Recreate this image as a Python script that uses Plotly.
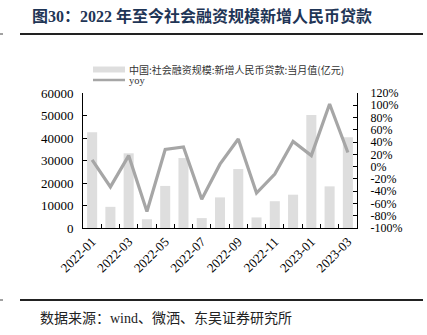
import plotly.graph_objects as go

# Monthly data, 2022-01 .. 2023-03
months = ["2022-01", "2022-02", "2022-03", "2022-04", "2022-05", "2022-06",
          "2022-07", "2022-08", "2022-09", "2022-10", "2022-11", "2022-12",
          "2023-01", "2023-02", "2023-03"]
new_rmb_loans = [42600, 9400, 33200, 3900, 18700, 31100,
                 4400, 13600, 26200, 4700, 11900, 14800,
                 50200, 18500, 40300]          # 亿元
yoy = [11, -33, 18, -73, 28, 32,
       -53, 4, 45, -43, -12, 41,
       18, 102, 23]                           # %

left_ticks = [0, 10000, 20000, 30000, 40000, 50000, 60000]
right_ticks = list(range(-100, 121, 20))
month_labels = [m if i % 2 == 0 else "" for i, m in enumerate(months)]

W, H = 427, 335
L, R, T, B = 83, 70, 93, 107
PW, PH = W - L - R, H - T - B


def px(x):
    return (x - L) / PW


def py(y):
    return (H - B - y) / PH


SERIF = "Liberation Serif, Times New Roman, serif"
CJK = "Noto Sans CJK SC, sans-serif"

fig = go.Figure()
fig.add_trace(go.Bar(
    x=months, y=new_rmb_loans, name="中国:社会融资规模:新增人民币贷款:当月值(亿元)",
    marker=dict(color="#dedede", line=dict(width=0)), yaxis="y",
))
fig.add_trace(go.Scatter(
    x=months, y=yoy, name="yoy", mode="lines",
    line=dict(color="#a6a6a6", width=3.2), yaxis="y2",
))

fig.update_layout(
    width=W, height=H,
    margin=dict(l=L, r=R, t=T, b=B),
    paper_bgcolor="white", plot_bgcolor="white",
    showlegend=False,
    bargap=0.45,
    title=dict(
        text="<b>图30：2022 年至今社会融资规模新增人民币贷款</b>",
        xref="container", yref="container", x=372 / W, y=1 - 16 / H,
        xanchor="right", yanchor="middle",
        font=dict(family="Liberation Serif, Noto Sans CJK SC", size=16, color="#1f3556"),
    ),
    xaxis=dict(
        type="category", tickmode="array", tickvals=months, ticktext=month_labels,
        tickson="boundaries", ticks="inside", ticklen=4, tickcolor="black",
        showline=True, linecolor="black", linewidth=1,
        tickangle=-45, tickfont=dict(family=SERIF, size=13, color="black"),
        showgrid=False, range=[-0.5, 14.5],
    ),
    yaxis=dict(
        range=[0, 60000], tickmode="array", tickvals=left_ticks,
        ticktext=[str(v) for v in left_ticks],
        ticks="inside", ticklen=4, tickcolor="black",
        showline=True, linecolor="black", linewidth=1,
        showgrid=False, zeroline=False,
        tickfont=dict(family=SERIF, size=13, color="black"),
        ticklabelstandoff=6,
    ),
    yaxis2=dict(
        range=[-100, 120], tickmode="array", tickvals=right_ticks,
        ticktext=[f"{v}%" for v in right_ticks],
        overlaying="y", side="right",
        ticks="inside", ticklen=4, tickcolor="black",
        showline=True, linecolor="black", linewidth=1,
        showgrid=False, zeroline=False,
        tickfont=dict(family=SERIF, size=12, color="black"),
        ticklabelstandoff=10,
    ),
)

shapes = [
    # rule under the heading
    dict(type="line", xref="paper", yref="paper", x0=px(20), x1=px(423),
         y0=py(34), y1=py(34), line=dict(color="#222", width=2)),
    dict(type="line", xref="paper", yref="paper", x0=px(0), x1=px(3),
         y0=py(34), y1=py(34), line=dict(color="#444", width=1)),
    # rule above the source note
    dict(type="line", xref="paper", yref="paper", x0=px(20), x1=px(423),
         y0=py(300), y1=py(300), line=dict(color="#222", width=2)),
    dict(type="line", xref="paper", yref="paper", x0=px(0), x1=px(3),
         y0=py(300), y1=py(300), line=dict(color="#444", width=1)),
    # legend keys
    dict(type="rect", xref="paper", yref="paper", x0=px(93), x1=px(125),
         y0=py(72.5), y1=py(66.5), fillcolor="#dedede", line=dict(width=0)),
    dict(type="line", xref="paper", yref="paper", x0=px(93), x1=px(125),
         y0=py(80), y1=py(80), line=dict(color="#a6a6a6", width=2.5)),
]

annotations = [
    dict(text="中国:社会融资规模:新增人民币贷款:当月值(亿元)",
         xref="paper", yref="paper", x=px(126.5), y=py(69.5), xanchor="left", yanchor="middle",
         showarrow=False, font=dict(family=CJK, size=10, color="#333")),
    dict(text="yoy",
         xref="paper", yref="paper", x=px(126.5), y=py(80), xanchor="left", yanchor="middle",
         showarrow=False, font=dict(family=SERIF, size=10.5, color="#333")),
    dict(text="数据来源：wind、微洒、东吴证券研究所",
         xref="paper", yref="paper", x=px(38), y=py(318), xanchor="left", yanchor="middle",
         showarrow=False, font=dict(family="Liberation Serif, Noto Sans CJK SC", size=14,
                                    color="#222")),
]

fig.update_layout(shapes=shapes, annotations=annotations)
fig.write_html("out.html")
